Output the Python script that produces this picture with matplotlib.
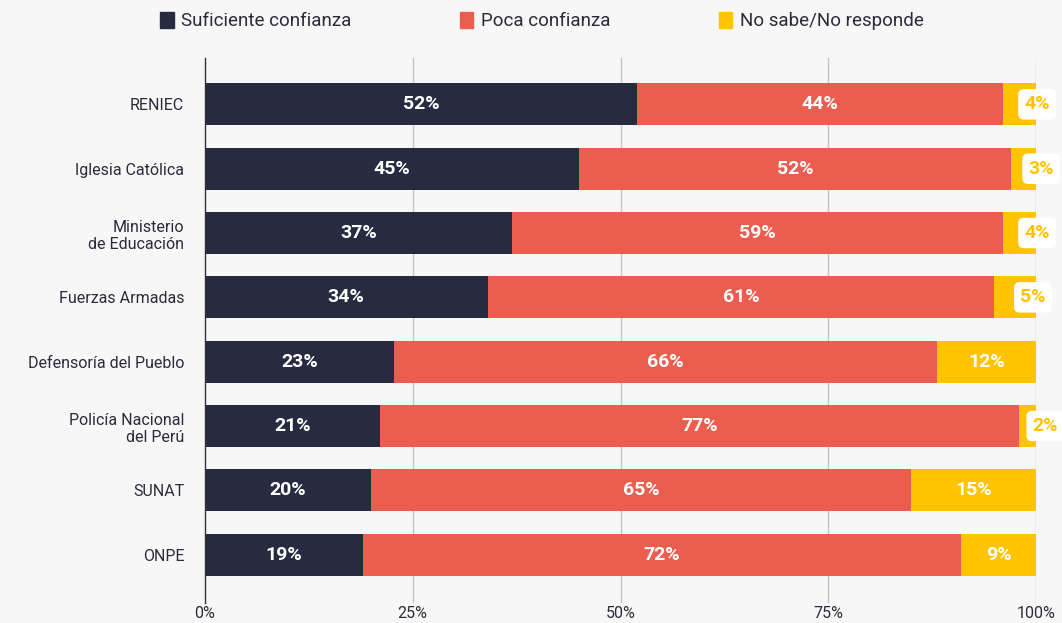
import matplotlib
matplotlib.use("Agg")
import matplotlib.pyplot as plt
from matplotlib.patches import Patch

plt.rcParams['font.family'] = ['Roboto', 'DejaVu Sans']

categories = ["RENIEC", "Iglesia Católica", "Ministerio\nde Educación", "Fuerzas Armadas",
              "Defensoría del Pueblo", "Policía Nacional\ndel Perú", "SUNAT", "ONPE"]
suficiente = [52, 45, 37, 34, 23, 21, 20, 19]
poca = [44, 52, 59, 61, 66, 77, 65, 72]
no_sabe = [4, 3, 4, 5, 12, 2, 15, 9]
series_names = ["Suficiente confianza", "Poca confianza", "No sabe/No responde"]
ticks = [0, 25, 50, 75, 100]

colors = ["#262b40", "#eb5e4f", "#ffc400"]
bg = "#f7f7f7"

fig = plt.figure(figsize=(10.62, 6.23), dpi=100, facecolor=bg)
ax = fig.add_axes([205 / 1062, 1 - 603 / 623, 831 / 1062, 545 / 623])
ax.set_facecolor(bg)

y = list(range(len(categories)))
series = [suficiente, poca, no_sabe]
totals = [a + b + c for a, b, c in zip(suficiente, poca, no_sabe)]

left = [0.0] * len(categories)
for k, vals in enumerate(series):
    widths = [v / t * 100 for v, t in zip(vals, totals)]
    ax.barh(y, widths, left=left, height=0.65, color=colors[k], zorder=2)
    for i, (w, l, v) in enumerate(zip(widths, left, vals)):
        cx = l + w / 2
        if k == 2 and v < 8:
            ax.text(cx + 0.6, i, f"{v}%", ha='left', va='center', color=colors[2],
                    fontsize=14, fontweight='bold', zorder=4, clip_on=False,
                    bbox=dict(boxstyle='round,pad=0.32,rounding_size=0.3',
                              fc='white', ec='none'))
        else:
            ax.text(cx, i, f"{v}%", ha='center', va='center', color='white',
                    fontsize=14, fontweight='bold', zorder=4)
    left = [l + w for l, w in zip(left, widths)]

ax.set_xlim(0, 100)
ax.set_ylim(len(categories) - 1 + 0.75, -0.72)
ax.set_yticks(y)
ax.set_yticklabels(categories, fontsize=11.5, color="#2b2b3a")
ax.set_xticks(ticks)
ax.set_xticklabels([f"{t}%" for t in ticks], fontsize=11.5, color="#2b2b3a")
ax.tick_params(axis='x', length=0, pad=2)
ax.tick_params(axis='y', length=0, pad=15)

for t in ticks[1:]:
    ax.axvline(t, color="#c4c4c4", lw=1, zorder=1)
for s in ["top", "right", "bottom"]:
    ax.spines[s].set_visible(False)
ax.spines["left"].set_color("#333333")
ax.spines["left"].set_linewidth(1)

handles = [Patch(color=c) for c in colors]
fig.legend(handles, series_names, loc='center', bbox_to_anchor=(542 / 1062, 1 - 21 / 623),
           ncol=3, frameon=False, fontsize=13.5, handlelength=0.7, handleheight=1.0,
           handletextpad=0.4, columnspacing=5.8, labelcolor="#2b2b3a")

fig.savefig("out.png", dpi=100, facecolor=bg)
